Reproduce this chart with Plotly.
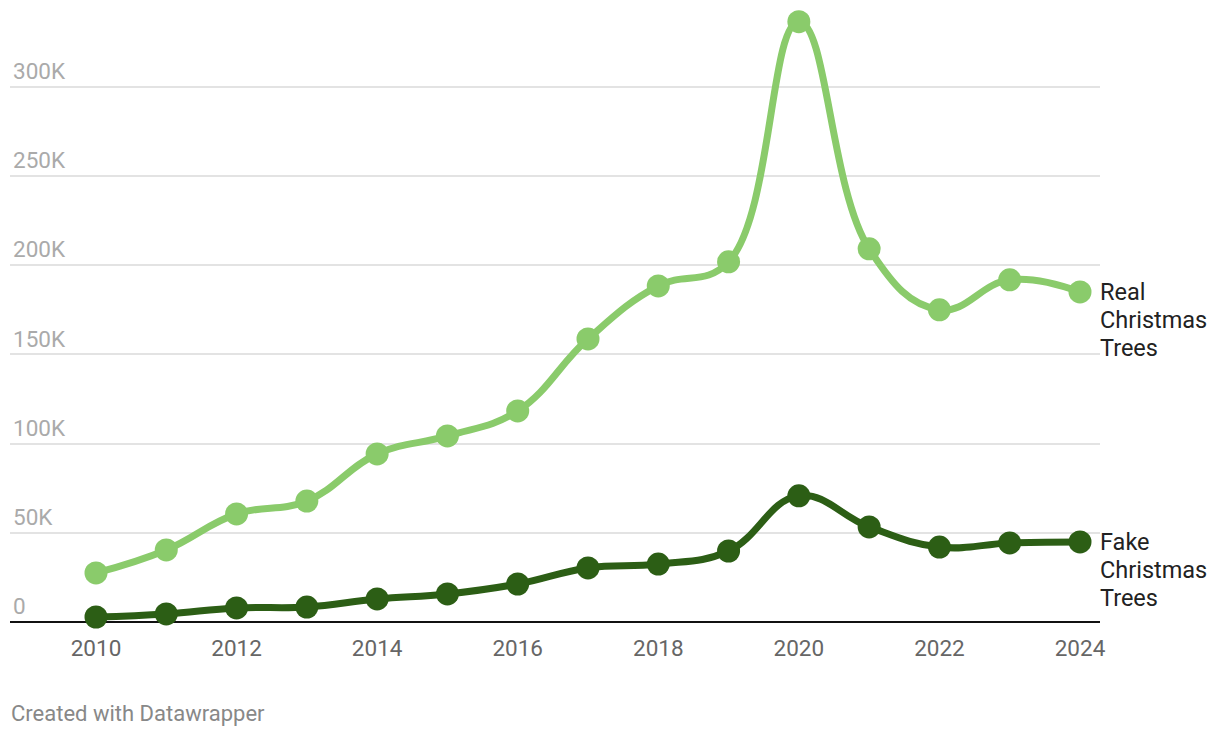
import plotly.graph_objects as go

years = list(range(2010, 2025))
real_trees = [27.5, 40.4, 60.6, 67.8, 94.2, 104.3, 118.3, 158.7, 188.4, 201.9, 336.5, 209.2, 175.0, 191.8, 185.0]
fake_trees = [2.8, 4.5, 7.9, 8.4, 12.9, 15.7, 21.3, 30.3, 32.5, 39.8, 70.7, 53.3, 42.0, 44.3, 44.9]
real_trees = [v * 1000 for v in real_trees]
fake_trees = [v * 1000 for v in fake_trees]
y_ticks = [0, 50000, 100000, 150000, 200000, 250000, 300000]
y_tick_labels = ["0", "50K", "100K", "150K", "200K", "250K", "300K"]
x_ticks = [2010, 2012, 2014, 2016, 2018, 2020, 2022, 2024]
real_label = ["Real", "Christmas", "Trees"]
fake_label = ["Fake", "Christmas", "Trees"]

REAL_COLOR = "#8acb6b"
FAKE_COLOR = "#2c5e15"
FONT = "Roboto"

fig = go.Figure()
for name, vals, col in [("Real Christmas Trees", real_trees, REAL_COLOR),
                        ("Fake Christmas Trees", fake_trees, FAKE_COLOR)]:
    fig.add_trace(go.Scatter(
        x=years, y=vals, mode="lines+markers", name=name,
        line=dict(color=col, width=7, shape="spline", smoothing=1.2),
        marker=dict(color=col, size=23),
        cliponaxis=False, showlegend=False,
    ))

for lines, v in [(real_label, real_trees[-1]), (fake_label, fake_trees[-1])]:
    for i, txt in enumerate(lines):
        fig.add_annotation(
            x=years[-1], y=v, xref="x", yref="y", text=txt, showarrow=False,
            xanchor="left", yanchor="middle", align="left",
            xshift=18, yshift=-28 * i,
            font=dict(family=FONT, size=23.5, color="#222222"),
        )

fig.add_annotation(
    x=0, y=0, xref="paper", yref="paper", text="Created with Datawrapper",
    showarrow=False, xanchor="left", yanchor="top", yshift=-77, xshift=-1,
    font=dict(family=FONT, size=22, color="#888888"),
)

x_min = 2010 - 86 / 70.29
x_max = 2024 + 20 / 70.29

fig.update_layout(
    width=1220, height=738,
    margin=dict(l=2, r=128, t=2, b=124),
    paper_bgcolor="white", plot_bgcolor="white",
    font=dict(family=FONT),
    xaxis=dict(
        range=[x_min, x_max], tickvals=x_ticks, ticktext=[str(x) for x in x_ticks],
        showgrid=False, zeroline=False, showline=False,
        ticks="outside", ticklen=6, tickcolor="rgba(0,0,0,0)",
        tickfont=dict(family=FONT, size=22.5, color="#666666"),
    ),
    yaxis=dict(
        range=[0, 612 / 89.2 * 50000], tickvals=y_ticks, ticktext=y_tick_labels,
        showgrid=True, gridcolor="#e3e3e3", gridwidth=2,
        zeroline=True, zerolinecolor="#111111", zerolinewidth=2,
        showline=False, ticks="",
        ticklabelposition="inside top",
        tickfont=dict(family=FONT, size=22.5, color="#aaaaaa"),
    ),
)

fig.write_html("out.html")
